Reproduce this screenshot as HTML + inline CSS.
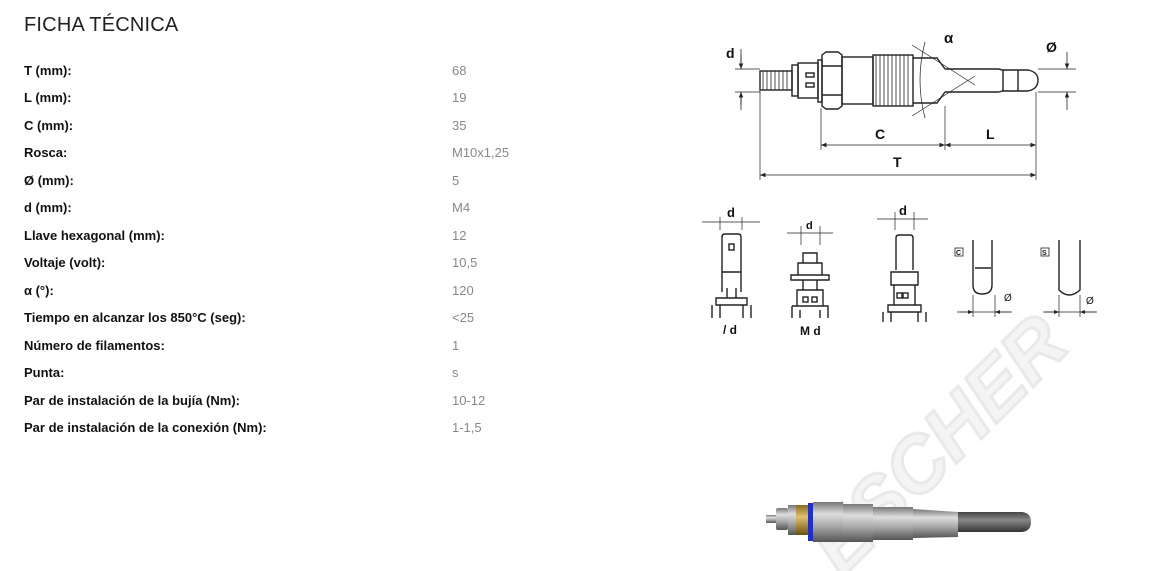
<!DOCTYPE html>
<html><head><meta charset="utf-8"><style>
body{margin:0;width:1159px;height:571px;background:#fff;position:relative;overflow:hidden;font-family:"Liberation Sans",sans-serif}
h1{position:absolute;left:24px;top:14px;margin:0;font-weight:normal;font-size:20px;color:#222;letter-spacing:0.2px}
.r{position:absolute;left:24px;font-size:13px;font-weight:bold;color:#111}
.v{position:absolute;left:452px;font-size:13px;color:#888}
svg{position:absolute;left:0;top:0}
</style></head><body>
<h1>FICHA TÉCNICA</h1>
<div class="r" style="top:63px">T (mm):</div><div class="v" style="top:63px">68</div>
<div class="r" style="top:90px">L (mm):</div><div class="v" style="top:90px">19</div>
<div class="r" style="top:118px">C (mm):</div><div class="v" style="top:118px">35</div>
<div class="r" style="top:145px">Rosca:</div><div class="v" style="top:145px">M10x1,25</div>
<div class="r" style="top:173px">Ø (mm):</div><div class="v" style="top:173px">5</div>
<div class="r" style="top:200px">d (mm):</div><div class="v" style="top:200px">M4</div>
<div class="r" style="top:228px">Llave hexagonal (mm):</div><div class="v" style="top:228px">12</div>
<div class="r" style="top:255px">Voltaje (volt):</div><div class="v" style="top:255px">10,5</div>
<div class="r" style="top:283px">α (°):</div><div class="v" style="top:283px">120</div>
<div class="r" style="top:310px">Tiempo en alcanzar los 850°C (seg):</div><div class="v" style="top:310px">&lt;25</div>
<div class="r" style="top:338px">Número de filamentos:</div><div class="v" style="top:338px">1</div>
<div class="r" style="top:365px">Punta:</div><div class="v" style="top:365px">s</div>
<div class="r" style="top:393px">Par de instalación de la bujía (Nm):</div><div class="v" style="top:393px">10-12</div>
<div class="r" style="top:420px">Par de instalación de la conexión (Nm):</div><div class="v" style="top:420px">1-1,5</div>

<svg width="1159" height="571" viewBox="0 0 1159 571">
<defs>
<marker id="a" viewBox="0 0 10 10" refX="10" refY="5" markerWidth="7" markerHeight="7" orient="auto-start-reverse"><path d="M0,1 L10,5 L0,9 Z" fill="#222"/></marker>
<linearGradient id="m" x1="0" y1="0" x2="0" y2="1"><stop offset="0" stop-color="#777"/><stop offset="0.3" stop-color="#ddd"/><stop offset="0.6" stop-color="#aaa"/><stop offset="1" stop-color="#555"/></linearGradient>
<linearGradient id="g" x1="0" y1="0" x2="0" y2="1"><stop offset="0" stop-color="#444"/><stop offset="0.4" stop-color="#888"/><stop offset="1" stop-color="#333"/></linearGradient>
<linearGradient id="b" x1="0" y1="0" x2="0" y2="1"><stop offset="0" stop-color="#8a6a20"/><stop offset="0.4" stop-color="#e0c070"/><stop offset="1" stop-color="#6a5010"/></linearGradient>
</defs>
<text x="0" y="0" transform="translate(842,578) rotate(-45)" font-size="78" font-weight="bold" font-style="italic" fill="#f4f4f4" stroke="#e9e9e9" stroke-width="3" font-family="Liberation Sans">ESCHER</text>

<g stroke="#222" fill="none" stroke-width="1.4">
<rect x="760" y="71" width="32" height="19"/>
<path d="M763,71v19M767,71v19M771,71v19M775,71v19M779,71v19M783,71v19M787,71v19" stroke-width="0.8"/>
<rect x="792" y="65" width="6" height="31"/>
<rect x="798" y="63" width="20" height="35"/>
<rect x="806" y="73" width="8" height="4"/><rect x="806" y="83" width="8" height="4"/>
<rect x="818" y="60" width="4" height="42"/>
<path d="M822,55 L826,52 L838,52 L842,55 V106 L838,109 L826,109 L822,106 Z"/>
<path d="M822,66 H842 M822,95 H842"/>
<rect x="842" y="57" width="31" height="47"/>
<rect x="873" y="55" width="40" height="51"/>
<path d="M876,55v51M880,55v51M884,55v51M888,55v51M892,55v51M896,55v51M900,55v51M904,55v51M908,55v51" stroke-width="0.8"/>
<path d="M913,58 H937 L945,69 M913,103 H937 L945,92"/>
<path d="M945,69 H998 Q1000,69 1002,70 H1028 Q1038,72 1038,80 Q1038,89 1028,91 H1002 Q1000,92 998,92 H945"/>
<path d="M1003,70v21M1018,70v21"/>
<path d="M912,45 L975,85 M912,116 L975,76" stroke-width="0.7"/>
<path d="M925,42 Q915,80 925,118" stroke-width="0.7"/>
<path d="M735,69 H760 M735,92 H760 M741,49V69 M741,110V92" stroke-width="0.8"/>
<line x1="741" y1="55" x2="741" y2="69" marker-end="url(#a)" stroke-width="0.8"/>
<line x1="741" y1="105" x2="741" y2="92" marker-end="url(#a)" stroke-width="0.8"/>
<path d="M1038,69 H1076 M1038,92 H1076" stroke-width="0.8"/>
<line x1="1067" y1="52" x2="1067" y2="69" marker-end="url(#a)" stroke-width="0.8"/>
<line x1="1067" y1="110" x2="1067" y2="92" marker-end="url(#a)" stroke-width="0.8"/>
<path d="M760,90 V180 M821,108 V150 M945,106 V150 M1036,92 V180" stroke-width="0.7"/>
<line x1="821" y1="145" x2="945" y2="145" marker-start="url(#a)" marker-end="url(#a)" stroke-width="0.8"/>
<line x1="945" y1="145" x2="1036" y2="145" marker-start="url(#a)" marker-end="url(#a)" stroke-width="0.8"/>
<line x1="760" y1="175" x2="1036" y2="175" marker-start="url(#a)" marker-end="url(#a)" stroke-width="0.8"/>

<path d="M702,222 H760 M720,217V230 M742,217V230" stroke-width="0.7"/>
<path d="M722,292 V237 Q722,234 725,234 H738 Q741,234 741,237 V292 M722,272 H741 M727,288 V298 H736 V288 M716,298 H747 V305 H716 Z M712,305 V318 M751,305 V318 M720,305V318 M743,305V318"/>
<rect x="729" y="244" width="5" height="6"/>
<path d="M787,233 H833 M801,226V245 M820,226V245" stroke-width="0.7"/>
<path d="M803,253 H817 V263 H803 Z M798,263 H822 V275 H798 Z M791,275 H829 V280 H791 Z M803,280 H817 V290 H803 Z M797,290 H823 V306 H797 Z M792,306 H828 V318 M792,306 V318 M800,310V318 M820,310V318"/>
<rect x="803" y="297" width="5" height="5"/><rect x="812" y="297" width="5" height="5"/>
<path d="M877,219 H928 M895,212V230 M914,212V230" stroke-width="0.7"/>
<path d="M896,270 V238 Q896,235 899,235 H910 Q913,235 913,238 V270 M891,272 H918 V285 H891 Z M894,285 H915 V305 H894 Z M888,305 H921 V312 H888 Z M883,312 V322 M926,312 V322 M891,312V322 M918,312V322"/>
<rect x="897" y="293" width="5" height="5"/><rect x="903" y="293" width="5" height="5"/>
<rect x="955" y="248" width="8" height="8" stroke-width="0.8"/>
<path d="M973,240 V285 Q973,294 982,294 Q992,294 992,285 V240 M975,268 H991" />
<path d="M973,295V317 M995,295V317 M957,312 H1012" stroke-width="0.7"/>
<line x1="960" y1="312" x2="973" y2="312" marker-end="url(#a)" stroke-width="0.7"/>
<line x1="1010" y1="312" x2="995" y2="312" marker-end="url(#a)" stroke-width="0.7"/>
<rect x="1041" y="248" width="8" height="8" stroke-width="0.8"/>
<path d="M1059,240 V290 Q1069,300 1080,290 V240"/>
<path d="M1059,295V317 M1080,295V317 M1043,312 H1097" stroke-width="0.7"/>
<line x1="1045" y1="312" x2="1059" y2="312" marker-end="url(#a)" stroke-width="0.7"/>
<line x1="1095" y1="312" x2="1080" y2="312" marker-end="url(#a)" stroke-width="0.7"/>
</g>
<g font-family="Liberation Sans" font-weight="bold" fill="#111">
<text x="726" y="58" font-size="14">d</text>
<text x="944" y="43" font-size="15">α</text>
<text x="1046" y="52" font-size="14">Ø</text>
<text x="875" y="139" font-size="14">C</text>
<text x="986" y="139" font-size="14">L</text>
<text x="893" y="167" font-size="14">T</text>
<text x="727" y="217" font-size="13">d</text>
<text x="806" y="229" font-size="11">d</text>
<text x="899" y="215" font-size="13">d</text>
<text x="723" y="334" font-size="12">/ d</text>
<text x="800" y="335" font-size="12">M d</text>
<text x="956" y="255" font-size="7">C</text>
<text x="1042" y="255" font-size="7">S</text>
<text x="1004" y="301" font-size="10" font-weight="normal">Ø</text>
<text x="1086" y="304" font-size="10" font-weight="normal">Ø</text>
</g>

<rect x="766" y="515" width="12" height="8" fill="url(#m)"/>
<rect x="776" y="508" width="12" height="22" rx="2" fill="url(#m)"/>
<rect x="788" y="505" width="8" height="30" fill="url(#m)"/>
<rect x="796" y="505" width="12" height="30" fill="url(#b)"/>
<rect x="808" y="503" width="5" height="38" fill="#2030c0"/>
<rect x="813" y="502" width="30" height="40" fill="url(#m)"/>
<rect x="843" y="504" width="30" height="38" fill="url(#m)"/>
<rect x="873" y="507" width="40" height="33" fill="url(#m)"/>
<path d="M913,509 L958,512 V537 L913,538 Z" fill="url(#m)"/>
<path d="M958,512 H1022 Q1031,513 1031,522 Q1031,531 1022,532 H958 Z" fill="url(#g)"/>
</svg>
</body></html>
